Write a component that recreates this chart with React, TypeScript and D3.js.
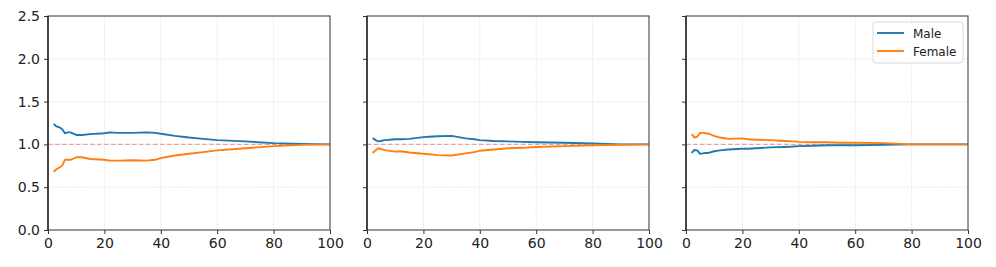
import React, {useRef, useEffect} from 'react';
import * as d3 from 'd3';

// x positions shared by every series
const steps = [2, 3, 4, 5, 6, 7, 8, 10, 12, 15, 20, 22, 25, 30, 35, 38, 40, 45, 50, 55, 60, 70, 80, 90, 100];

const male1 = [1.24, 1.21, 1.20, 1.18, 1.13, 1.14, 1.14, 1.11, 1.11, 1.12, 1.13, 1.14, 1.135, 1.135, 1.14, 1.135, 1.125, 1.10, 1.08, 1.065, 1.05, 1.035, 1.015, 1.005, 1.0];
const female1 = [0.68, 0.71, 0.73, 0.75, 0.82, 0.82, 0.82, 0.85, 0.85, 0.83, 0.82, 0.81, 0.81, 0.815, 0.81, 0.82, 0.84, 0.87, 0.89, 0.91, 0.93, 0.955, 0.98, 0.995, 1.0];

const male2 = [1.075, 1.05, 1.035, 1.04, 1.05, 1.05, 1.055, 1.06, 1.06, 1.065, 1.085, 1.09, 1.095, 1.10, 1.07, 1.06, 1.05, 1.04, 1.035, 1.03, 1.025, 1.02, 1.01, 1.0, 1.0];
const female2 = [0.90, 0.93, 0.955, 0.945, 0.935, 0.93, 0.925, 0.915, 0.92, 0.905, 0.89, 0.885, 0.875, 0.87, 0.895, 0.91, 0.925, 0.94, 0.955, 0.96, 0.97, 0.98, 0.99, 0.995, 1.0];

const male3 = [0.90, 0.935, 0.93, 0.89, 0.895, 0.90, 0.90, 0.92, 0.93, 0.94, 0.95, 0.95, 0.955, 0.965, 0.97, 0.975, 0.98, 0.985, 0.99, 0.99, 0.99, 0.995, 1.0, 1.0, 1.0];
const female3 = [1.12, 1.08, 1.09, 1.135, 1.135, 1.13, 1.125, 1.10, 1.08, 1.065, 1.07, 1.06, 1.055, 1.05, 1.04, 1.035, 1.03, 1.025, 1.025, 1.02, 1.02, 1.015, 1.0, 1.0, 1.0];

const panels = [
	{male: male1, female: female1},
	{male: male2, female: female2},
	{male: male3, female: female3},
];

const xTicks = [0, 20, 40, 60, 80, 100];
const yTicks = [0, 0.5, 1.0, 1.5, 2.0, 2.5];
const seriesNames = ['Male', 'Female'];
const colors = ['#1f77b4', '#ff7f0e'];

const App = () => {
	const svgRef = useRef(null);

	useEffect(() => {
		const width = 996;
		const height = 267;
		const svg = d3.select(svgRef.current)
			.attr('width', width)
			.attr('height', height)
			.style('position', 'absolute')
			.style('left', 0)
			.style('top', 0)
			.style('background', '#fff')
			.style('font-family', '"DejaVu Sans", sans-serif');
		svg.selectAll('*').remove();

		const lefts = [48, 367, 686];
		const pw = 282;
		const top = 16;
		const bottom = 230;

		const yScale = d3.scaleLinear().domain([0, 2.5]).range([bottom, top]);

		panels.forEach((p, pi) => {
			const x0 = lefts[pi];
			const xScale = d3.scaleLinear().domain([0, 100]).range([x0, x0 + pw]);
			const g = svg.append('g');

			// grid
			g.selectAll('.vgrid')
				.data(xTicks.slice(1, -1))
				.join('line')
					.attr('x1', d => xScale(d)).attr('x2', d => xScale(d))
					.attr('y1', top).attr('y2', bottom)
					.attr('stroke', '#d0d0d0')
					.attr('stroke-width', 0.8)
					.attr('stroke-dasharray', '1,1.6');
			g.selectAll('.hgrid')
				.data(yTicks.slice(1, -1))
				.join('line')
					.attr('x1', x0).attr('x2', x0 + pw)
					.attr('y1', d => yScale(d)).attr('y2', d => yScale(d))
					.attr('stroke', '#d0d0d0')
					.attr('stroke-width', 0.8)
					.attr('stroke-dasharray', '1,1.6');

			// reference line at 1
			g.append('line')
				.attr('x1', x0).attr('x2', x0 + pw)
				.attr('y1', yScale(1)).attr('y2', yScale(1))
				.attr('stroke', '#e06060')
				.attr('stroke-opacity', 0.55)
				.attr('stroke-width', 1.1)
				.attr('stroke-dasharray', '4.5,2.5');

			// series
			const line = d3.line()
				.x((d, i) => xScale(steps[i]))
				.y(d => yScale(d));
			[p.male, p.female].forEach((vals, si) => {
				g.append('path')
					.attr('d', line(vals))
					.attr('fill', 'none')
					.attr('stroke', colors[si])
					.attr('stroke-width', 1.9)
					.attr('stroke-linejoin', 'round');
			});

			// axes
			const xAxis = d3.axisBottom(xScale)
				.tickValues(xTicks)
				.tickSize(4)
				.tickPadding(4)
				.tickFormat(d => String(d));
			const gx = g.append('g')
				.attr('transform', `translate(0, ${bottom})`)
				.call(xAxis);
			gx.select('.domain').remove();

			const yAxis = d3.axisLeft(yScale)
				.tickValues(yTicks)
				.tickSize(4)
				.tickPadding(4)
				.tickFormat(d => pi === 0 ? d3.format('.1f')(d) : '');
			const gy = g.append('g')
				.attr('transform', `translate(${x0}, 0)`)
				.call(yAxis);
			gy.select('.domain').remove();

			[gx, gy].forEach(a => {
				a.selectAll('text')
					.attr('font-size', 14)
					.attr('font-family', '"DejaVu Sans", sans-serif')
					.attr('fill', '#222');
				a.selectAll('line').attr('stroke', '#333').attr('stroke-width', 1);
			});

			// frame
			g.append('rect')
				.attr('x', x0).attr('y', top)
				.attr('width', pw).attr('height', bottom - top)
				.attr('fill', 'none')
				.attr('stroke', '#444')
				.attr('stroke-width', 1.1);
			g.append('line')
				.attr('x1', x0).attr('x2', x0)
				.attr('y1', top).attr('y2', bottom)
				.attr('stroke', '#222')
				.attr('stroke-width', 1.4);
		});

		// legend in the last panel
		const lg = svg.append('g').attr('transform', 'translate(873, 22)');
		lg.append('rect')
			.attr('width', 90).attr('height', 41)
			.attr('rx', 3)
			.attr('fill', '#fff')
			.attr('fill-opacity', 0.8)
			.attr('stroke', '#d0d0d0')
			.attr('stroke-width', 0.8);
		seriesNames.forEach((name, i) => {
			const y = 11 + i * 18;
			lg.append('line')
				.attr('x1', 4).attr('x2', 31)
				.attr('y1', y).attr('y2', y)
				.attr('stroke', colors[i])
				.attr('stroke-width', 1.9);
			lg.append('text')
				.attr('x', 40).attr('y', y + 4.5)
				.attr('font-size', 12)
				.attr('fill', '#222')
				.text(name);
		});
	}, []);

	return (
		<div>
			<svg ref={svgRef}></svg>
		</div>
	);
};

export default App;
